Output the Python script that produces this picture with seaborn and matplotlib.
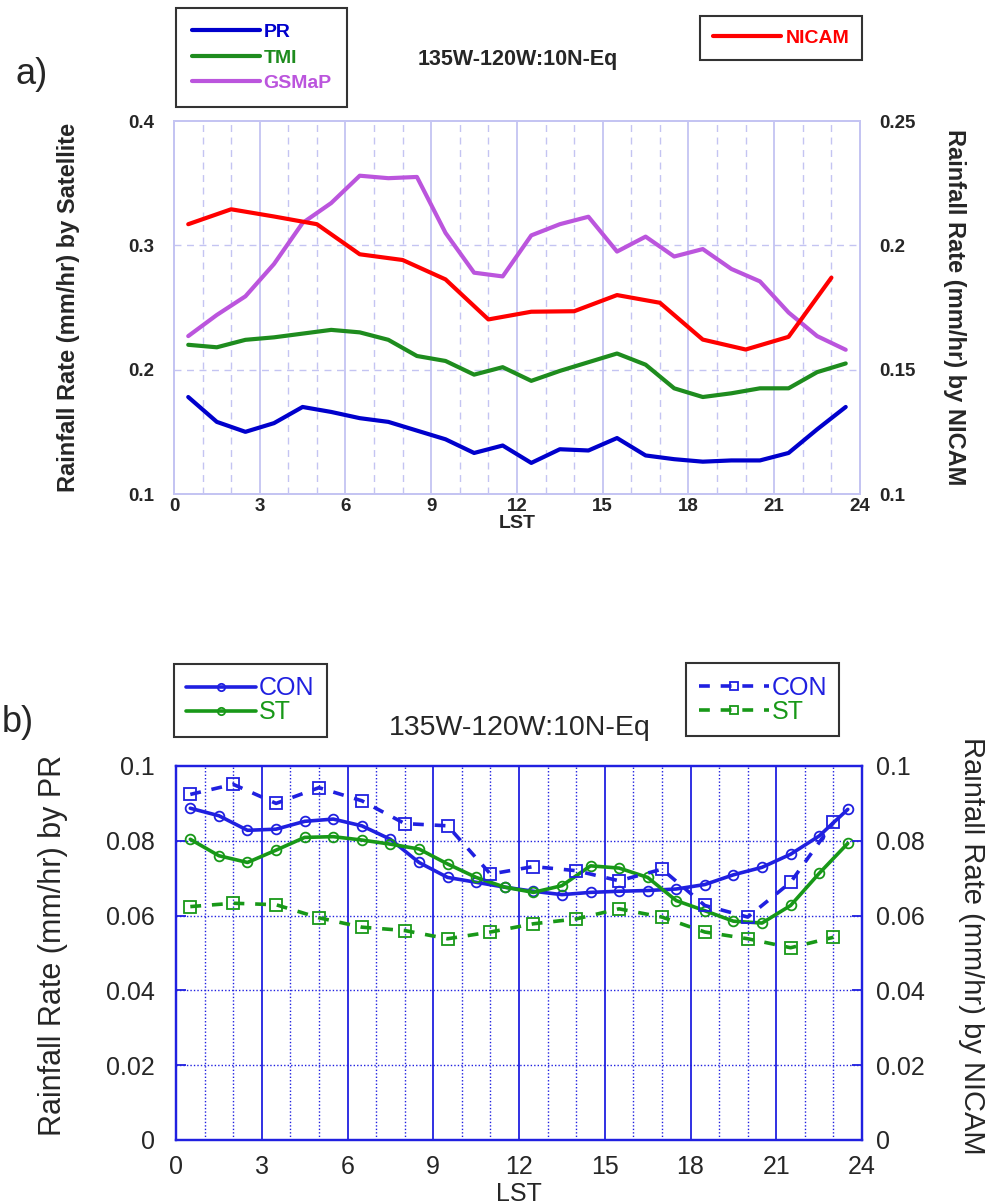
import numpy as np
import pandas as pd
import matplotlib
matplotlib.use("Agg")
import matplotlib.pyplot as plt
import seaborn as sns

# hours (LST) of the samples
hours_sat = np.arange(0.5, 24, 1.0)          # satellite / PR, every hour
hours_nicam = np.arange(0.5, 23.6, 1.5)      # NICAM, every 1.5 hours

# panel a
pr = [0.178, 0.158, 0.150, 0.157, 0.170, 0.166, 0.161, 0.158, 0.151, 0.144, 0.133, 0.139,
      0.125, 0.136, 0.135, 0.145, 0.131, 0.128, 0.126, 0.127, 0.127, 0.133, 0.152, 0.170]
tmi = [0.220, 0.218, 0.224, 0.226, 0.229, 0.232, 0.230, 0.224, 0.211, 0.207, 0.196, 0.202,
       0.191, 0.199, 0.206, 0.213, 0.204, 0.185, 0.178, 0.181, 0.185, 0.185, 0.198, 0.205]
gsmap = [0.227, 0.244, 0.259, 0.285, 0.318, 0.334, 0.356, 0.354, 0.355, 0.310, 0.278, 0.275,
         0.308, 0.317, 0.323, 0.295, 0.307, 0.291, 0.297, 0.281, 0.271, 0.246, 0.227, 0.216]
nicam = [0.2085, 0.2145, 0.2116, 0.2085, 0.1964, 0.1941, 0.1863, 0.1702,
         0.1733, 0.1735, 0.1800, 0.1769, 0.1621, 0.1581, 0.1632, 0.1870]

# panel b
pr_con = [0.0887, 0.0867, 0.0828, 0.0831, 0.0852, 0.0858, 0.0840, 0.0804, 0.0742, 0.0702, 0.0689, 0.0676,
          0.0665, 0.0656, 0.0662, 0.0665, 0.0667, 0.0671, 0.0683, 0.0709, 0.0729, 0.0764, 0.0813, 0.0884]
pr_st = [0.0804, 0.0760, 0.0742, 0.0775, 0.0809, 0.0811, 0.0802, 0.0791, 0.0778, 0.0738, 0.0702, 0.0676,
         0.0662, 0.0680, 0.0733, 0.0727, 0.0702, 0.0640, 0.0613, 0.0585, 0.0580, 0.0627, 0.0713, 0.0793]
nicam_con = [0.0924, 0.0951, 0.0900, 0.0942, 0.0907, 0.0846, 0.0840, 0.0711,
             0.0731, 0.0720, 0.0693, 0.0724, 0.0627, 0.0596, 0.0689, 0.0849]
nicam_st = [0.0624, 0.0633, 0.0629, 0.0594, 0.0569, 0.0560, 0.0538, 0.0556,
            0.0578, 0.0591, 0.0618, 0.0596, 0.0556, 0.0538, 0.0514, 0.0542]

sat = pd.DataFrame({"LST": hours_sat, "PR": pr, "TMI": tmi, "GSMaP": gsmap,
                    "CON": pr_con, "ST": pr_st})
nic = pd.DataFrame({"LST": hours_nicam, "NICAM": nicam, "CON": nicam_con, "ST": nicam_st})

sns.set_style("white")
plt.rcParams['font.family'] = ['Liberation Sans', 'DejaVu Sans']

BLUE = "#0000cc"
GREEN = "#1e8c1e"
PURPLE = "#bb55dd"
RED = "#ff0000"
GRID_A = "#c4c4f2"
BLUE_B = "#2020e0"
GREEN_B = "#189818"

fig = plt.figure(figsize=(9.85, 12.04), dpi=100)

# ---------------- panel a ----------------
ax = fig.add_axes([0.1766, 0.5897, 0.6965, 0.3098])
ax2 = ax.twinx()

sns.lineplot(data=sat, x="LST", y="PR", ax=ax, color=BLUE, lw=3, label="PR")
sns.lineplot(data=sat, x="LST", y="TMI", ax=ax, color=GREEN, lw=3, label="TMI")
sns.lineplot(data=sat, x="LST", y="GSMaP", ax=ax, color=PURPLE, lw=3, label="GSMaP")
sns.lineplot(data=nic, x="LST", y="NICAM", ax=ax2, color=RED, lw=3, label="NICAM")

ax.set_xlim(0, 24)
ax.set_ylim(0.1, 0.4)
ax2.set_ylim(0.1, 0.25)
ax.set_xticks(range(0, 25, 3))
ax.set_yticks([0.1, 0.2, 0.3, 0.4])
ax.set_yticklabels(["0.1", "0.2", "0.3", "0.4"])
ax2.set_yticks([0.1, 0.15, 0.2, 0.25])
ax2.set_yticklabels(["0.1", "0.15", "0.2", "0.25"])
for h in range(1, 24):
    if h in (3, 6, 9, 12, 15, 18, 21):
        ax.axvline(h, color=GRID_A, lw=1.3, zorder=0)
    else:
        ax.axvline(h, color=GRID_A, lw=1.0, ls=(0, (5, 4)), zorder=0)
for v in (0.2, 0.3):
    ax.axhline(v, color=GRID_A, lw=1.0, ls=(0, (5, 4)), zorder=0)
for a in (ax, ax2):
    for s in a.spines.values():
        s.set_color(GRID_A)
        s.set_linewidth(1.3)
    a.tick_params(length=0, labelsize=13.5)
    for t in a.get_xticklabels() + a.get_yticklabels():
        t.set_fontweight("bold")
ax.tick_params(axis="y", pad=14)
ax2.tick_params(axis="y", pad=14)
ax.tick_params(axis="x", pad=3)

ax.set_xlabel("LST", fontsize=14, fontweight="bold", labelpad=0)
ax.set_ylabel("Rainfall Rate (mm/hr) by Satellite", fontsize=17, fontweight="bold")
ax.yaxis.set_label_coords(-0.137, 0.5)
ax2.set_ylabel("Rainfall Rate (mm/hr) by NICAM", fontsize=17, fontweight="bold", rotation=270)
ax2.yaxis.set_label_coords(1.155, 0.5)

leg = ax.legend(loc="upper left", bbox_to_anchor=(0.003, 1.303), borderaxespad=0,
                prop={"size": 14, "weight": "bold"}, handlelength=3.5, handletextpad=0.2,
                labelspacing=0.4, borderpad=0.8, frameon=True, fancybox=False,
                edgecolor="black", labelcolor="linecolor")
leg.get_frame().set_linewidth(1.5)
leg2 = ax2.legend(loc="upper right", bbox_to_anchor=(1.003, 1.281), borderaxespad=0,
                  prop={"size": 14, "weight": "bold"}, handlelength=3.5, handletextpad=0.2,
                  borderpad=0.67, frameon=True, fancybox=False, edgecolor="black",
                  labelcolor="linecolor")
leg2.get_frame().set_linewidth(1.5)

fig.text(518 / 985, 1 - 60 / 1204, "135W-120W:10N-Eq", ha="center", va="center",
         fontsize=15.5, fontweight="bold")
fig.text(32 / 985, 1 - 75 / 1204, "a)", ha="center", va="center", fontsize=26)

# ---------------- panel b ----------------
bx = fig.add_axes([0.1787, 0.0532, 0.6965, 0.3106])
bx2 = bx.twinx()

sns.lineplot(data=sat, x="LST", y="CON", ax=bx, color=BLUE_B, lw=2.6, marker="o", ms=7,
             mfc="none", mec=BLUE_B, mew=1.3, label="CON")
sns.lineplot(data=sat, x="LST", y="ST", ax=bx, color=GREEN_B, lw=2.6, marker="o", ms=7,
             mfc="none", mec=GREEN_B, mew=1.3, label="ST")
sns.lineplot(data=nic, x="LST", y="CON", ax=bx2, color=BLUE_B, lw=2.6, ls=(0, (3, 3)),
             marker="s", ms=8, mfc="none", mec=BLUE_B, mew=1.3, label="CON")
sns.lineplot(data=nic, x="LST", y="ST", ax=bx2, color=GREEN_B, lw=2.6, ls=(0, (3, 3)),
             marker="s", ms=8, mfc="none", mec=GREEN_B, mew=1.3, label="ST")

bx.set_xlim(0, 24)
for a in (bx, bx2):
    a.set_ylim(0, 0.1)
    a.set_yticks([0, 0.02, 0.04, 0.06, 0.08, 0.1])
    a.set_yticklabels(["0", "0.02", "0.04", "0.06", "0.08", "0.1"])
bx.set_xticks(range(0, 25, 3))
for h in range(1, 24):
    if h % 3 == 0:
        bx.axvline(h, color=BLUE_B, lw=1.3, zorder=0)
    else:
        bx.axvline(h, color=BLUE_B, lw=1.0, ls=(0, (1, 1.5)), zorder=0)
for v in (0.02, 0.04, 0.06, 0.08):
    bx.axhline(v, color=BLUE_B, lw=1.0, ls=(0, (1, 1.5)), zorder=0)
for a in (bx, bx2):
    for s in a.spines.values():
        s.set_color(BLUE_B)
        s.set_linewidth(1.6)
    a.tick_params(direction="in", length=7, width=1.3, color=BLUE_B, labelsize=18, pad=10)
bx.tick_params(axis="y", pad=15)
bx.tick_params(axis="x", pad=11)

bx.set_xlabel("LST", fontsize=18, labelpad=2)
bx.set_ylabel("Rainfall Rate (mm/hr) by PR", fontsize=22)
bx.yaxis.set_label_coords(-0.158, 0.52)
bx2.set_ylabel("Rainfall Rate (mm/hr) by NICAM", fontsize=21, rotation=270)
bx2.yaxis.set_label_coords(1.18, 0.52)

bleg = bx.legend(loc="upper left", bbox_to_anchor=(-0.003, 1.273), borderaxespad=0,
                 prop={"size": 18}, handlelength=2.8, handletextpad=0.1,
                 labelspacing=0.0, borderpad=0.5, frameon=True, fancybox=False,
                 edgecolor="black", labelcolor="linecolor", markerscale=0.75)
bleg.get_frame().set_linewidth(1.5)
bleg2 = bx2.legend(loc="upper right", bbox_to_anchor=(0.967, 1.275), borderaxespad=0,
                   prop={"size": 18}, handlelength=2.8, handletextpad=0.1,
                   labelspacing=0.0, borderpad=0.5, frameon=True, fancybox=False,
                   edgecolor="black", labelcolor="linecolor", markerscale=0.75)
bleg2.get_frame().set_linewidth(1.5)

fig.text(520 / 985, 1 - 728 / 1204, "135W-120W:10N-Eq", ha="center", va="center", fontsize=20.5)
fig.text(18 / 985, 1 - 722 / 1204, "b)", ha="center", va="center", fontsize=26)

fig.savefig("out.png", dpi=100)
